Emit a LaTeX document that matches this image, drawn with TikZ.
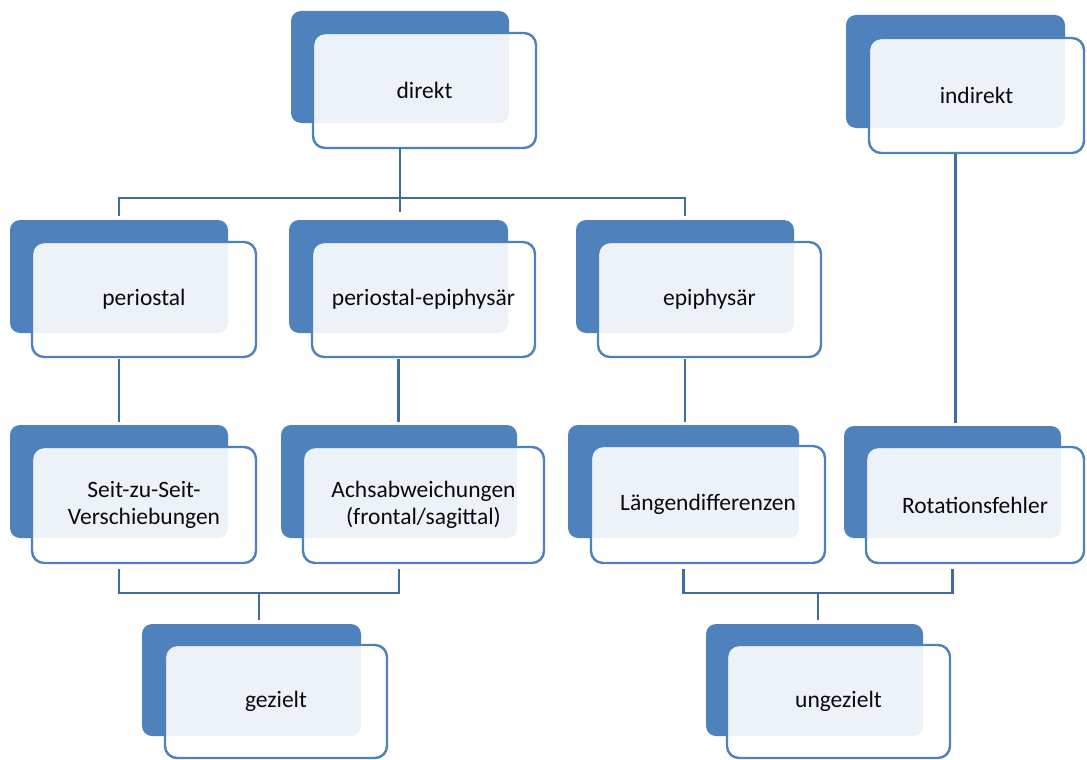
\documentclass[tikz,border=0pt]{standalone}
\usepackage{fontspec}
\setmainfont{Carlito}
\usetikzlibrary{calc}
\definecolor{backblue}{HTML}{4F81BD}
\definecolor{frontline}{HTML}{4F81BD}
\definecolor{connblue}{HTML}{3F6B9F}
\definecolor{txt}{HTML}{0A0A0A}
\tikzset{
  backbox/.style={draw=none, fill=backblue, rounded corners=10pt, inner sep=0pt, outer sep=0pt},
  frontbox/.style={draw=frontline, line width=2.4pt, fill=white, fill opacity=0.9, text opacity=1,
    rounded corners=12pt, inner sep=0pt, outer sep=0pt, align=center, text=txt,
    font=\fontsize{23.5pt}{27pt}\selectfont},
  conn/.style={draw=connblue, line width=2.8pt}
}
\begin{document}
\begin{tikzpicture}[x=1pt,y=-1pt]
\useasboundingbox (0,0) rectangle (1087,760);
% direkt
\node[backbox, minimum width=218pt, minimum height=112pt] (dB) at (400,67) {};
\node[frontbox, minimum width=223pt, minimum height=115pt] (dF) at (424.5,90.5) {direkt};
% indirekt
\node[backbox, minimum width=219pt, minimum height=113pt] (iB) at (955.5,71.5) {};
\node[frontbox, minimum width=215pt, minimum height=115pt] (iF) at (976.5,95.5) {indirekt};
% periostal
\node[backbox, minimum width=218pt, minimum height=113pt] (pB) at (119,276.5) {};
\node[frontbox, minimum width=224pt, minimum height=115pt] (pF) at (144,299.5) {periostal};
% periostal-epiphysaer
\node[backbox, minimum width=219pt, minimum height=113pt] (peB) at (398.5,276.5) {};
\node[frontbox, minimum width=223pt, minimum height=115pt] (peF) at (423.5,299.5) {periostal-epiphysär};
% epiphysaer
\node[backbox, minimum width=218pt, minimum height=113pt] (eB) at (685,276.5) {};
\node[frontbox, minimum width=223pt, minimum height=115pt] (eF) at (709.5,299.5) {epiphysär};
% Seit-zu-Seit
\node[backbox, minimum width=218pt, minimum height=113pt] (sB) at (119,481.5) {};
\node[frontbox, minimum width=224pt, minimum height=116pt] (sF) at (144,505) {Seit-zu-Seit-\\Verschiebungen};
% Achsabweichungen
\node[backbox, minimum width=236pt, minimum height=113pt] (aB) at (399,481.5) {};
\node[frontbox, minimum width=241pt, minimum height=116pt] (aF) at (423.5,505) {Achsabweichungen\\(frontal/sagittal)};
% Laengendifferenzen
\node[backbox, minimum width=231pt, minimum height=113pt] (lB) at (683.5,481.5) {};
\node[frontbox, minimum width=234pt, minimum height=117pt] (lF) at (708,504.5) {Längendifferenzen};
% Rotationsfehler
\node[backbox, minimum width=217pt, minimum height=112pt] (rB) at (952.5,482) {};
\node[frontbox, minimum width=218pt, minimum height=116pt] (rF) at (975,505) {Rotationsfehler};
% gezielt
\node[backbox, minimum width=219pt, minimum height=112pt] (gB) at (251.5,680) {};
\node[frontbox, minimum width=222pt, minimum height=113pt] (gF) at (276,701.5) {gezielt};
% ungezielt
\node[backbox, minimum width=217pt, minimum height=112pt] (uB) at (814.5,680) {};
\node[frontbox, minimum width=223pt, minimum height=113pt] (uF) at (838.5,701.5) {ungezielt};

% connectors
\coordinate (busA) at (0,198);
\coordinate (busB) at (0,593);
\draw[conn] (dF.south -| dB.center) -- ($(dB.center |- peB.north)+(0,-8)$);
\draw[conn] ($(pB.north)+(0,-4)$) -- (pB.north |- busA) -- (eB.north |- busA) -- ($(eB.north)+(0,-4)$);
\draw[conn, shorten <=2pt, shorten >=3pt] (pF.south -| pB.center) -- (pB.center |- sB.north);
\draw[conn, shorten <=2pt, shorten >=3pt] (peF.south -| peB.center) -- (peB.center |- aB.north);
\draw[conn, shorten <=2pt, shorten >=3pt] (eF.south -| eB.center) -- (eB.center |- lB.north);
\draw[conn, shorten <=1pt, shorten >=3pt] (iF.south -| iB.center) -- (iB.center |- rB.north);
\draw[conn] ($(sF.south -| sB.center)+(0,6)$) -- (sB.center |- busB) -- (aB.center |- busB) -- ($(aF.south -| aB.center)+(0,6)$);
\coordinate (mL) at ($(sB.center |- busB)!0.5!(aB.center |- busB)$);
\draw[conn, shorten >=4pt] (mL) -- (mL |- gB.north);
\draw[conn] ($(lF.south -| lB.center)+(0,6)$) -- (lB.center |- busB) -- (rB.center |- busB) -- ($(rF.south -| rB.center)+(0,6)$);
\coordinate (mR) at ($(lB.center |- busB)!0.5!(rB.center |- busB)$);
\draw[conn, shorten >=4pt] (mR) -- (mR |- uB.north);
\end{tikzpicture}
\end{document}
